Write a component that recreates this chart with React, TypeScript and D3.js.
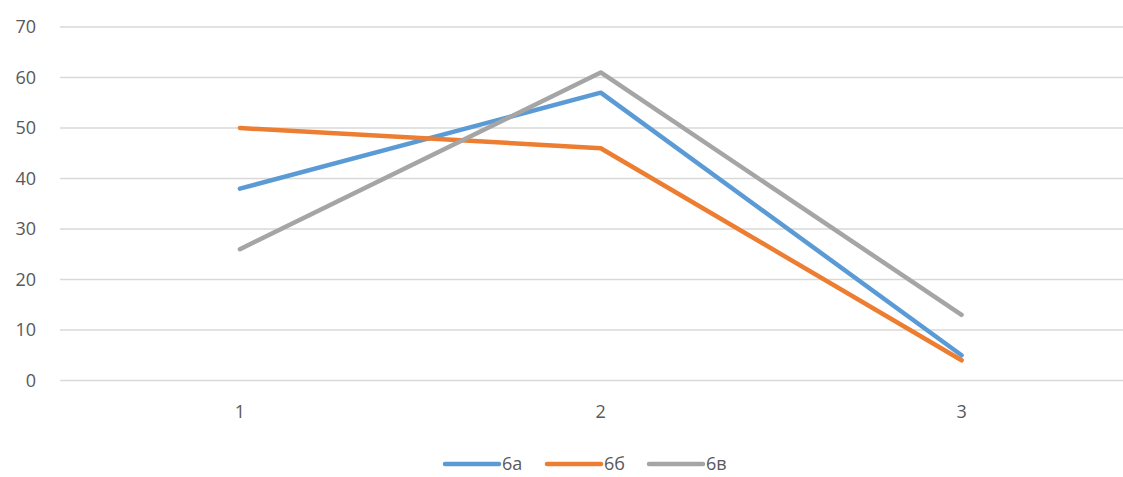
import React from "react";
import * as d3 from "d3";

const categories = ["1", "2", "3"];
const series6a = [38, 57, 5];
const series6b = [50, 46, 4];
const series6v = [26, 61, 13];
const seriesNames = ["6а", "6б", "6в"];
const colors = ["#5B9BD5", "#ED7D31", "#A5A5A5"];
const yTicks = [0, 10, 20, 30, 40, 50, 60, 70];

const W = 1123;
const H = 477;

export default function App() {
  const x = d3.scaleBand<string>().domain(categories).range([59.5, 1142]);
  const y = d3.scaleLinear().domain([0, 70]).range([380.5, 27]);
  const all = [series6a, series6b, series6v];
  const line = d3
    .line<number>()
    .x((_, i) => (x(categories[i]) as number) + x.bandwidth() / 2)
    .y((d) => y(d));
  const font = "'Open Sans', 'Liberation Sans', Arial, sans-serif";
  const legendX = [443, 545, 647];
  return (
    <svg width={W} height={H} style={{ position: "absolute", left: 0, top: 0, background: "#fff" }}>
      {yTicks.map((t) => (
        <g key={t}>
          <line x1={60} x2={W} y1={y(t)} y2={y(t)} stroke="#D9D9D9" strokeWidth={1.3} />
          <text x={36} y={y(t)} dy="0.35em" textAnchor="end" fontFamily={font} fontSize={18} fill="#595959">
            {t}
          </text>
        </g>
      ))}
      {categories.map((c) => (
        <text key={c} x={(x(c) as number) + x.bandwidth() / 2} y={412} dy="0.35em" textAnchor="middle" fontFamily={font} fontSize={18} fill="#595959">
          {c}
        </text>
      ))}
      {all.map((s, i) => (
        <path key={i} d={line(s) || ""} fill="none" stroke={colors[i]} strokeWidth={4.5} strokeLinecap="round" strokeLinejoin="round" />
      ))}
      {seriesNames.map((n, i) => (
        <g key={n}>
          <line x1={legendX[i] + 2} x2={legendX[i] + 56} y1={464} y2={464} stroke={colors[i]} strokeWidth={4.5} strokeLinecap="round" />
          <text x={legendX[i] + 59} y={464} dy="0.35em" fontFamily={font} fontSize={18} fill="#595959">
            {n}
          </text>
        </g>
      ))}
    </svg>
  );
}
